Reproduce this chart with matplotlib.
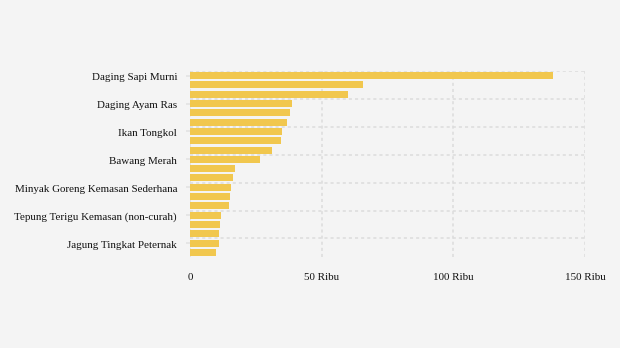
import matplotlib
matplotlib.use("Agg")
import matplotlib.pyplot as plt
import matplotlib.transforms as mtransforms
import numpy as np

values = [137.8, 65.7, 60.0, 38.7, 38.0, 36.8, 34.9, 34.5, 31.1, 26.6,
          17.1, 16.3, 15.6, 15.2, 14.8, 11.8, 11.4, 11.0, 11.0, 9.9]  # thousand
shown_labels = ["Daging Sapi Murni", "Daging Ayam Ras", "Ikan Tongkol", "Bawang Merah",
                "Minyak Goreng Kemasan Sederhana", "Tepung Terigu Kemasan (non-curah)",
                "Jagung Tingkat Peternak"]
xticks = [0, 50, 100, 150]
xtick_labels = ["0", "50 Ribu", "100 Ribu", "150 Ribu"]

bg = "#F4F4F4"
fig = plt.figure(figsize=(6.2, 3.48), dpi=100, facecolor=bg)
ax = fig.add_axes([190/620, 1-257/348, (585-190)/620, (257-71)/348])
ax.set_facecolor(bg)

y = np.arange(len(values))
ax.barh(y, values, height=0.75, color="#F1C74E", zorder=3)
ax.set_ylim(len(values) - 0.5, -0.5)
ax.set_xlim(0, 150)

for s in ax.spines.values():
    s.set_visible(False)

gkw = dict(color="#DCDCDC", lw=1.1, dashes=(2, 2), zorder=1)
for xv in xticks:
    ax.axvline(xv, **gkw)
for yv in np.arange(-0.5, len(values) - 1, 3):
    ax.axhline(yv, **gkw)

ax.set_yticks(y[::3])
ax.set_yticklabels(shown_labels, fontfamily="Liberation Serif", fontsize=7.9, color="#111111")
ax.tick_params(axis="y", length=3, width=1.2, color="#E2E2E2", pad=6.3)
offset = mtransforms.ScaledTranslation(0, -1/100, fig.dpi_scale_trans)
for lab in ax.get_yticklabels():
    lab.set_transform(lab.get_transform() + offset)
ax.set_xticks(xticks)
ax.set_xticklabels(xtick_labels, fontfamily="Liberation Serif", fontsize=7.9, color="#111111")
ax.tick_params(axis="x", length=0, pad=11.8)

fig.savefig("out.png", dpi=100, facecolor=bg)
